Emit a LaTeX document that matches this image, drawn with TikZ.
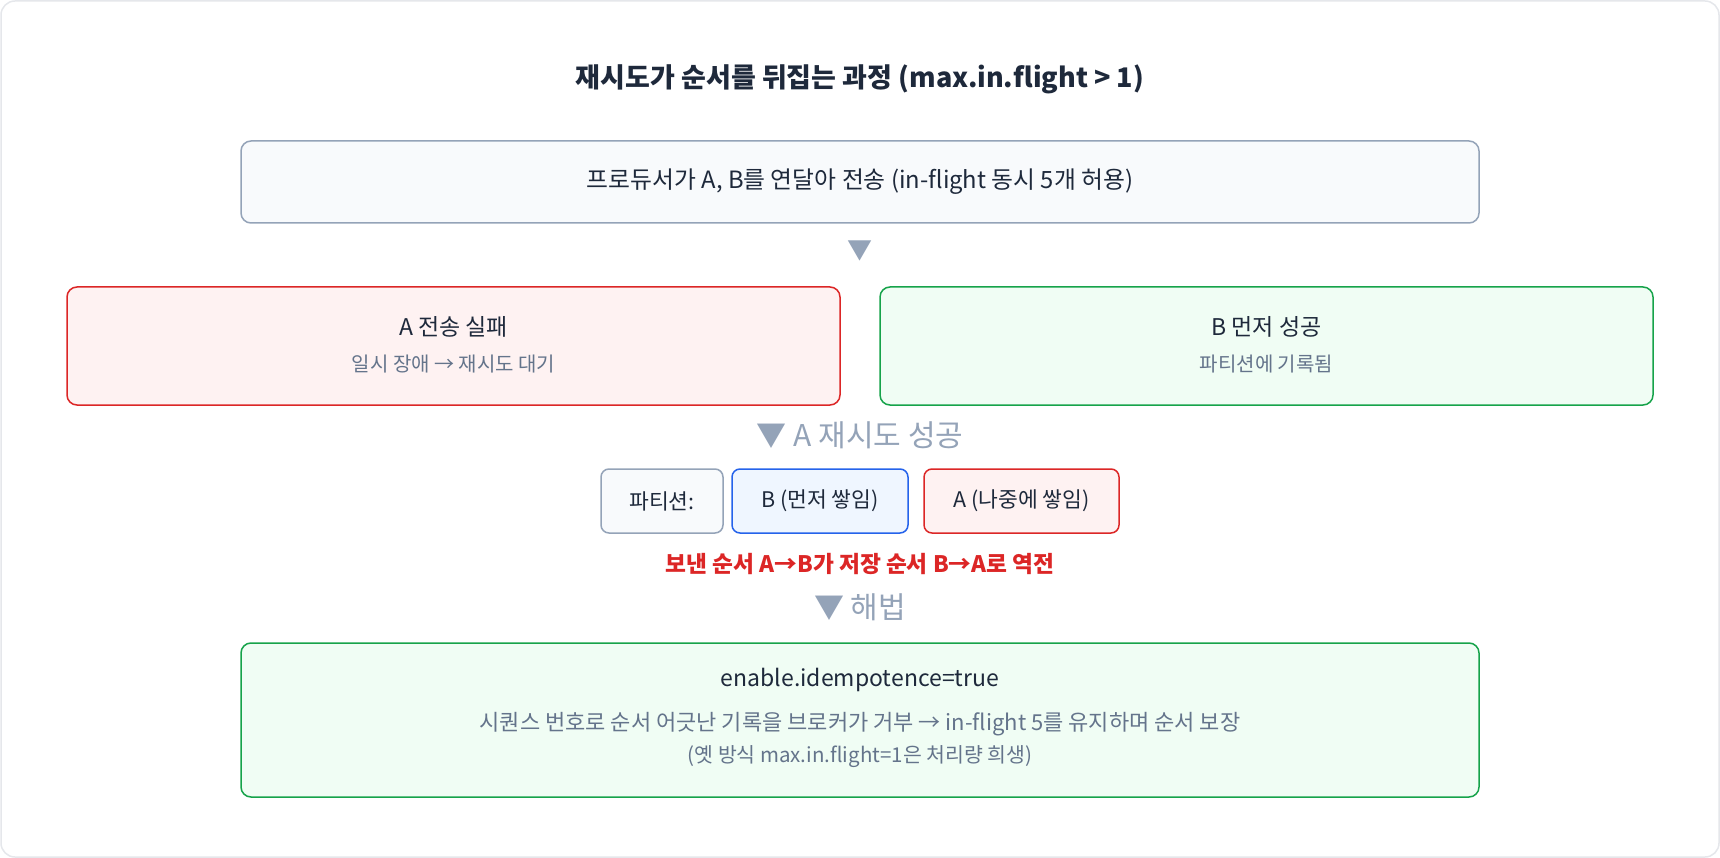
\documentclass[tikz,border=0pt]{standalone}
\usepackage{fontspec}
\setmainfont{Noto Sans CJK KR}
\usetikzlibrary{positioning}
\definecolor{ink}{HTML}{1E293B}
\definecolor{muted}{HTML}{64748B}
\definecolor{slate}{HTML}{94A3B8}
\definecolor{slatebg}{HTML}{F8FAFC}
\definecolor{redline}{HTML}{DC2626}
\definecolor{redbg}{HTML}{FEF2F2}
\definecolor{greenline}{HTML}{16A34A}
\definecolor{greenbg}{HTML}{F0FDF4}
\definecolor{blueline}{HTML}{2563EB}
\definecolor{bluebg}{HTML}{EFF6FF}
\definecolor{frame}{HTML}{E5E7EB}
\newcommand{\fs}[1]{\fontsize{#1}{#1}\selectfont}
\begin{document}
\begin{tikzpicture}[x=1pt,y=-1pt,
  box/.style={rounded corners=10pt,line width=1.5pt,inner sep=0pt},
  chip/.style={rounded corners=8pt,line width=1.5pt,inner sep=0pt,minimum height=64pt,text=ink,font=\fs{21.5}},
  head/.style={text=ink,font=\fs{23}},
  sub/.style={text=muted,font=\fs{20}},
  steplabel/.style={text=slate,font=\fs{30}}]
  \useasboundingbox(0,0)rectangle(1720,858);
  \draw[frame,fill=white,line width=1.5pt,rounded corners=14pt](1,1)rectangle(1719,857);
  \node[text=ink,font=\bfseries\fs{27}](title)at(860,79){재시도가 순서를 뒤집는 과정 (max.in.flight > 1)};
  \node[box,draw=slate,fill=slatebg,minimum width=1238pt,minimum height=82pt](send)at(860,182){};
  \node[head,font=\fs{23.8}](sendT)at(send){프로듀서가 A, B를 연달아 전송 (in-flight 동시 5개 허용)};
  \node[text=slate,font=\fs{25}](down1)at(860,251){▼};
  \node[box,draw=redline,fill=redbg,minimum width=773pt,minimum height=118pt](fail)at(453.5,346){};
  \node[head](failT)at(453.5,327){A 전송 실패};
  \node[sub](failS)at(453.5,364){일시 장애 → 재시도 대기};
  \node[box,draw=greenline,fill=greenbg,minimum width=773pt,minimum height=118pt](ok)at(1266.5,346){};
  \node[head](okT)at(1266.5,327){B 먼저 성공};
  \node[sub](okS)at(1266.5,364){파티션에 기록됨};
  \node[steplabel](retry)at(860,435){▼ A 재시도 성공};
  \node[chip,draw=slate,fill=slatebg,minimum width=122pt](part)at(662,501){파티션:};
  \node[chip,draw=blueline,fill=bluebg,minimum width=176pt](recB)at(820,501){B (먼저 쌓임)};
  \node[chip,draw=redline,fill=redbg,minimum width=195pt](recA)at(1021.5,501){A (나중에 쌓임)};
  \node[text=redline,font=\bfseries\fs{22.7}](flip)at(860,564){보낸 순서 A→B가 저장 순서 B→A로 역전};
  \node[steplabel](fix)at(860,607){▼ 해법};
  \node[box,draw=greenline,fill=greenbg,minimum width=1238pt,minimum height=154pt](idem)at(860,720){};
  \node[head](idemT)at(860,680){enable.idempotence=true};
  \node[sub,font=\fs{22}](idemS)at(860,724){시퀀스 번호로 순서 어긋난 기록을 브로커가 거부 → in-flight 5를 유지하며 순서 보장};
  \node[sub,font=\fs{20.5}](idemN)at(860,757){(옛 방식 max.in.flight=1은 처리량 희생)};
\end{tikzpicture}
\end{document}
